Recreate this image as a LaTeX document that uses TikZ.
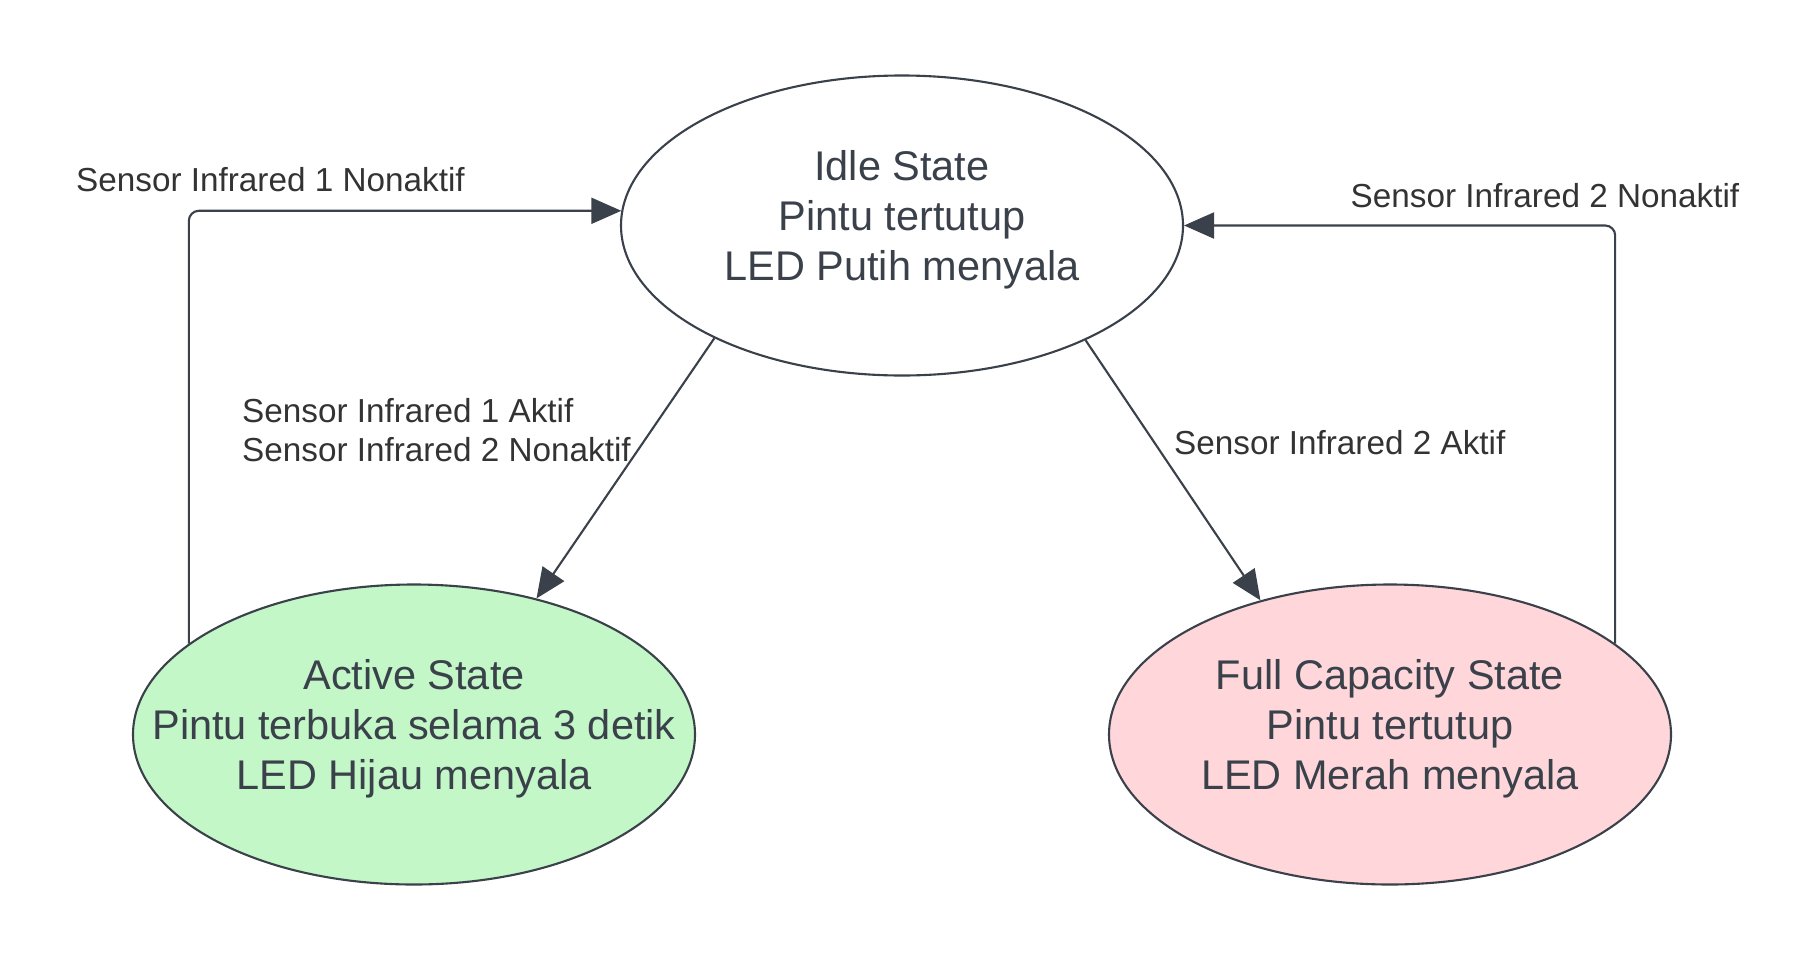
\documentclass[tikz,border=0pt]{standalone}
\usepackage{fontspec}
\setmainfont{Liberation Sans}
\usepackage{xcolor}
\usepackage{tikz}
\usetikzlibrary{arrows.meta}
\usetikzlibrary{shapes.geometric}
\usetikzlibrary{positioning}
\definecolor{garis}{HTML}{3A414A}
\definecolor{teks}{HTML}{333333}
\definecolor{hijau}{HTML}{C3F7C8}
\definecolor{merah}{HTML}{FFD7DA}
\newcommand{\isikeadaan}[1]{\raisebox{0.05cm}[\height][\depth]{\makebox[0pt]{\begin{tabular}{@{}c@{}}#1\end{tabular}}}}
\tikzset{
  keadaan/.style={draw=garis, ellipse, line width=0.6pt, minimum width=5.62cm, minimum height=3cm, inner sep=0pt, text=garis, font=\fontsize{11.8}{14.2}\selectfont},
  panah/.style={-{Triangle[length=3mm, width=2.6mm]}, draw=garis, fill=none, line width=0.6pt, rounded corners=1mm},
  ket/.style={anchor=base west, inner sep=0pt, text=teks, font=\fontsize{9.47}{11.1}\selectfont},
}

\begin{document}
\begin{tikzpicture}
  \useasboundingbox (0,0) rectangle (18.13,9.60);
  \node[keadaan] (idle) at (9.02,7.345) {\isikeadaan{Idle State\\Pintu tertutup\\LED Putih menyala}};
  \node[keadaan, fill=hijau] (aktif) at (4.14,2.255) {\isikeadaan{Active State\\Pintu terbuka selama 3 detik\\LED Hijau menyala}};
  \node[keadaan, fill=merah] (penuh) at (13.90,2.255) {\isikeadaan{Full Capacity State\\Pintu tertutup\\LED Merah menyala}};
  \node[ket] (k1) at (0.755,7.685) {Sensor Infrared 1 Nonaktif};
  \node[ket] (k2) at (13.50,7.53) {Sensor Infrared 2 Nonaktif};
  \node[ket] (k3) at (2.415,5.373) {\begin{tabular}[t]{@{}l@{}}Sensor Infrared 1 Aktif\\Sensor Infrared 2 Nonaktif\end{tabular}};
  \node[ket] (k4) at (11.735,5.06) {Sensor Infrared 2 Aktif};
  \draw[panah] (aktif.158.2) |- (idle.177.3);
  \draw[panah] (penuh.22) |- (idle.east);
  \draw[panah] (idle.211) -- (aktif.48.7);
  \draw[panah] (idle.328.2) -- (penuh.134);
\end{tikzpicture}
\end{document}
